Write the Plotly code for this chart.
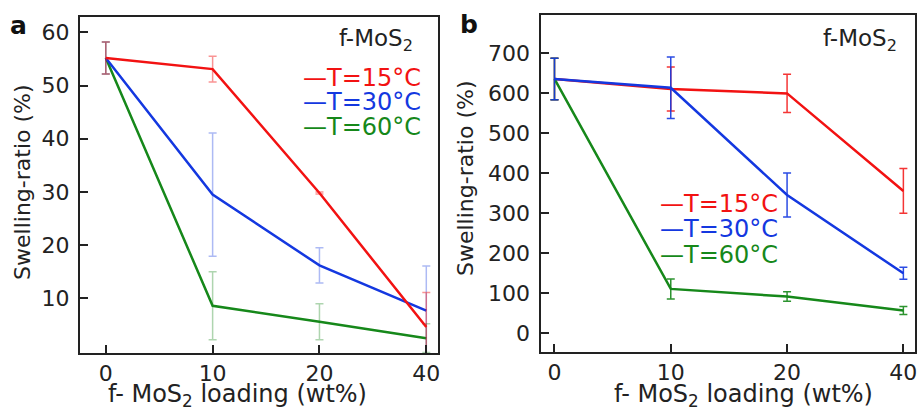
import plotly.graph_objects as go

# ---------------- data ----------------
loading_labels = ["0", "10", "20", "40"]
positions = [0, 1, 2, 3]
series_names = ["T=15°C", "T=30°C", "T=60°C"]

# panel a
a_t15 = [55.2, 53.1, 29.8, 4.6]
a_t15_err = [3.0, 2.4, 0.2, 6.5]
a_t30 = [55.2, 29.5, 16.2, 7.7]
a_t30_err = [3.0, 11.6, 3.3, 8.4]
a_t60 = [55.2, 8.6, 5.6, 2.5]
a_t60_err = [3.0, 6.4, 3.4, 2.7]

# panel b
b_t15 = [636, 611, 600, 356]
b_t15_err = [52, 55, 48, 56]
b_t30 = [636, 614, 346, 150]
b_t30_err = [52, 77, 55, 15]
b_t60 = [636, 111, 92, 57]
b_t60_err = [52, 25, 12, 10]

a_yticks = [10, 20, 30, 40, 50, 60]
b_yticks = [0, 100, 200, 300, 400, 500, 600, 700]

colors = ["#f21212", "#1438e0", "#16881a"]
err_a = ["rgba(160,140,60,0.6)", "rgba(20,56,224,0.35)", "rgba(22,136,26,0.35)"]
err_a_red = "rgba(242,18,18,0.45)"
err_b = ["rgba(242,18,18,0.85)", "rgba(20,56,224,0.9)", "rgba(22,136,26,0.9)"]

FONT = "DejaVu Sans"
W, H = 919, 407


def px(x):
    return x / W


def py(y):
    return 1 - y / H


fig = go.Figure()

a_vals = [(a_t15, a_t15_err), (a_t30, a_t30_err), (a_t60, a_t60_err)]
b_vals = [(b_t15, b_t15_err), (b_t30, b_t30_err), (b_t60, b_t60_err)]
a_err_colors = [err_a_red, err_a[1], err_a[2]]

for i in [2, 1, 0]:
    y, e = a_vals[i]
    fig.add_trace(go.Scatter(
        x=positions, y=y, mode="lines", name=series_names[i],
        line=dict(color=colors[i], width=2.5),
        error_y=dict(type="data", array=e, color=a_err_colors[i], thickness=1.5, width=4),
        xaxis="x", yaxis="y", showlegend=False,
    ))

for i in [0, 2, 1]:
    y, e = b_vals[i]
    fig.add_trace(go.Scatter(
        x=positions, y=y, mode="lines", name=series_names[i],
        line=dict(color=colors[i], width=2.5),
        error_y=dict(type="data", array=e, color=err_b[i], thickness=1.5, width=4),
        xaxis="x2", yaxis="y2", showlegend=False,
    ))

axis_common = dict(
    showline=True, linecolor="#222222", linewidth=2, mirror=True,
    ticks="inside", ticklen=8, tickwidth=1.5, tickcolor="#222222",
    showgrid=False, zeroline=False,
)
xtick_font = dict(family=FONT, size=22, color="#222222")
ytick_font = dict(family=FONT, size=22, color="#222222")

fig.update_layout(
    width=W, height=H,
    margin=dict(l=0, r=0, t=0, b=0),
    paper_bgcolor="white", plot_bgcolor="white",
    font=dict(family=FONT, color="#222222"),
    xaxis=dict(domain=[px(80), px(439)], range=[-0.243, 3.11], tickfont=xtick_font,
               tickvals=positions, ticktext=loading_labels, anchor="y", **axis_common),
    yaxis=dict(domain=[py(353), py(17)], range=[-0.28, 62.9], ticklabelstandoff=4,
               tickfont=ytick_font, tickvals=a_yticks, anchor="x", **axis_common),
    xaxis2=dict(domain=[px(541.7), px(917)], range=[-0.12, 3.1], tickfont=xtick_font,
                tickvals=positions, ticktext=loading_labels, anchor="y2", **axis_common),
    yaxis2=dict(domain=[py(351.7), py(15)], range=[-46, 796], ticklabelstandoff=4,
                tickfont=ytick_font, tickvals=b_yticks, anchor="x2", **axis_common),
    showlegend=False,
)

ytitle_font = dict(family=FONT, size=22, color="#222222")
xtitle_font = dict(family=FONT, size=24, color="#222222")
annotations = [
    dict(text="<b>a</b>", x=px(19), y=py(25), font=dict(family=FONT, size=25, color="#111111")),
    dict(text="<b>b</b>", x=px(470), y=py(24), font=dict(family=FONT, size=25, color="#111111")),
    dict(text="f-MoS<sub>2</sub>", x=px(377), y=py(40), font=dict(family=FONT, size=23, color="#222222")),
    dict(text="f-MoS<sub>2</sub>", x=px(862), y=py(40), font=dict(family=FONT, size=23, color="#222222")),
    dict(text="Swelling-ratio (%)", x=px(22), y=py(182), textangle=-90, font=ytitle_font),
    dict(text="Swelling-ratio (%)", x=px(467), y=py(178), textangle=-90, font=ytitle_font),
    dict(text="f- MoS<sub>2</sub> loading (wt%)", x=px(238), y=py(395), font=xtitle_font),
    dict(text="f- MoS<sub>2</sub> loading (wt%)", x=px(745), y=py(395), font=xtitle_font),
]
for a in annotations:
    a.update(xanchor="center")

# legend entries (coloured sample dash + coloured label)
legend_a_rows = [78, 102, 127]
legend_b_rows = [204, 229, 255]
for i, name in enumerate(series_names):
    annotations.append(dict(
        text=f'<span style="color:{colors[i]}">—{name}</span>',
        x=px(302), y=py(legend_a_rows[i]), xanchor="left",
        font=dict(family=FONT, size=24, color=colors[i])))
    annotations.append(dict(
        text=f'<span style="color:{colors[i]}">—{name}</span>',
        x=px(659), y=py(legend_b_rows[i]), xanchor="left",
        font=dict(family=FONT, size=24, color=colors[i])))

for a in annotations:
    a.update(xref="paper", yref="paper", showarrow=False, yanchor="middle")
fig.update_layout(annotations=annotations)

fig.write_html(
    "out.html",
    config={"displayModeBar": False},
    post_script="document.body.style.margin='0px';document.body.style.overflow='hidden';",
)
